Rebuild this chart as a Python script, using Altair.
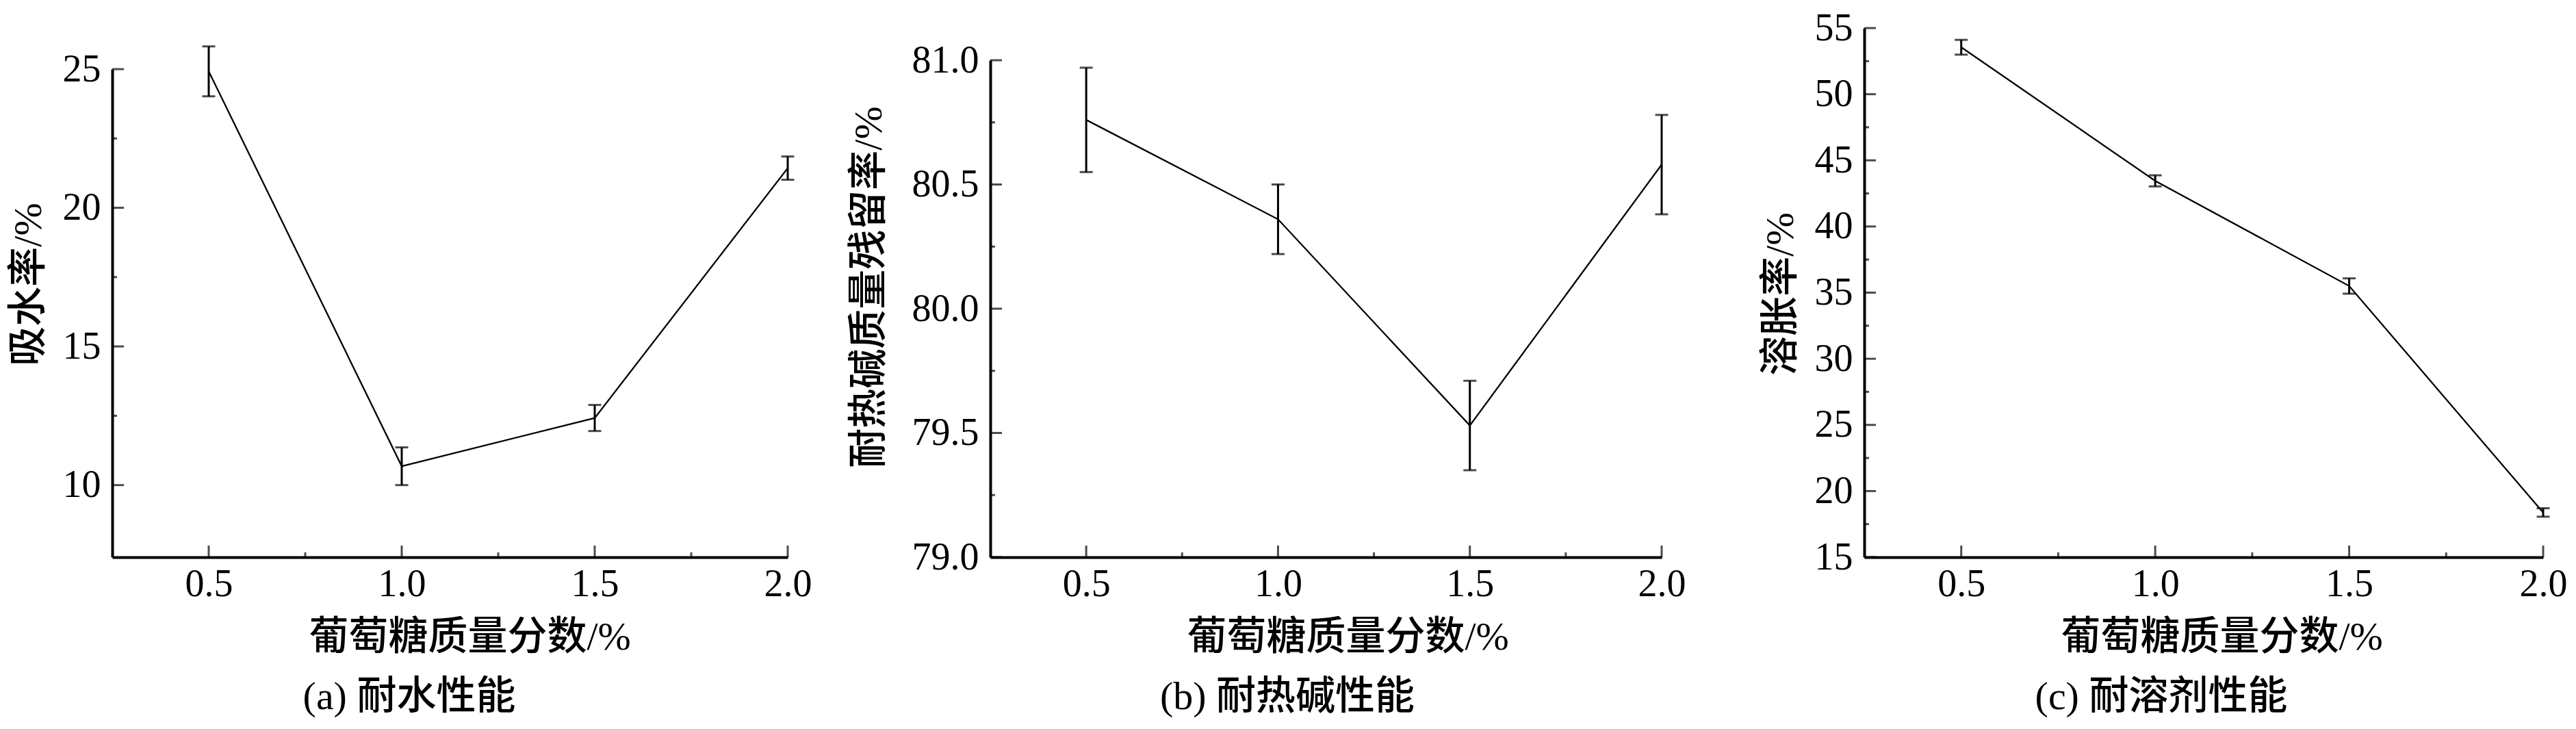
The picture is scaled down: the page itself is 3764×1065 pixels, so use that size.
import altair as alt
import pandas as pd

# ---- data ----
glucose = [0.5, 1.0, 1.5, 2.0]

water_mean = [24.92, 10.68, 12.42, 21.43]
water_err = [0.90, 0.68, 0.47, 0.42]

alkali_mean = [80.76, 80.36, 79.53, 80.58]
alkali_err = [0.21, 0.14, 0.18, 0.20]

swell_mean = [53.55, 43.45, 35.50, 18.38]
swell_err = [0.56, 0.42, 0.58, 0.32]

x_major = [0.5, 1.0, 1.5, 2.0]
x_minor = [0.75, 1.25, 1.75]

a_y_major = [10, 15, 20, 25]
a_y_minor = [12.5, 17.5, 22.5]
b_y_major = [79.0, 79.5, 80.0, 80.5, 81.0]
b_y_minor = [79.25, 79.75, 80.25, 80.75]
c_y_major = [15, 20, 25, 30, 35, 40, 45, 50, 55]
c_y_minor = [17.5, 22.5, 27.5, 32.5, 37.5, 42.5, 47.5, 52.5]

x_title = "葡萄糖质量分数/%"
y_titles = ["吸水率/%", "耐热碱质量残留率/%", "溶胀率/%"]
captions = ["(a) 耐水性能", "(b) 耐热碱性能", "(c) 耐溶剂性能"]

H = 773
FONT_NUM = "Liberation Serif"
FONT_TXT = "Liberation Serif, Noto Sans CJK SC"


def panel(mean, err, ydom, ytop, ymaj, ymin, yfmt, ytitle, ytx, yty, caption, width):
    df = pd.DataFrame({"x": glucose, "y": mean, "e": err})
    df["lo"] = df["y"] - df["e"]
    df["hi"] = df["y"] + df["e"]

    xs = alt.Scale(domain=[0.25, 2.0], nice=False, zero=False)
    ys = alt.Scale(domain=ydom, nice=False, zero=False, range=[H, ytop])
    xax = alt.Axis(values=x_major, format=".1f", title=x_title, titleX=287, titleY=117,
                   titleAlign="left", titleBaseline="middle", ticks=False, tickSize=0,
                   grid=False, labelPadding=12, labelFlush=False, labelOverlap=False)
    yax = alt.Axis(values=ymaj, format=yfmt, title=ytitle, titleX=ytx, titleY=yty,
                   titleAngle=270, titleAlign="center", titleBaseline="middle",
                   ticks=False, tickSize=0, grid=False, labelPadding=17,
                   labelFlush=False, labelOverlap=False)

    def X(f):
        return alt.X(f, type="quantitative", scale=xs, axis=xax)

    def Y(f):
        return alt.Y(f, type="quantitative", scale=ys, axis=yax)

    base = alt.Chart(df)
    line = base.mark_line(color="black", strokeWidth=2.3).encode(x=X("x"), y=Y("y"))
    stem = base.mark_rule(color="black", strokeWidth=3).encode(x=X("x"), y=Y("lo"), y2="hi")
    cap_hi = base.mark_tick(color="black", orient="horizontal", size=19, thickness=3).encode(
        x=X("x"), y=Y("hi"))
    cap_lo = base.mark_tick(color="black", orient="horizontal", size=19, thickness=3).encode(
        x=X("x"), y=Y("lo"))

    xmaj = alt.Chart(pd.DataFrame({"v": x_major})).mark_tick(
        color="black", orient="vertical", size=17, thickness=3).encode(
        x=X("v"), y=alt.value(H - 8.5))
    xmin = alt.Chart(pd.DataFrame({"v": x_minor})).mark_tick(
        color="black", orient="vertical", size=7, thickness=3).encode(
        x=X("v"), y=alt.value(H - 3.5))
    ymj = alt.Chart(pd.DataFrame({"v": ymaj})).mark_tick(
        color="black", orient="horizontal", size=17, thickness=3).encode(
        y=Y("v"), x=alt.value(8.5))
    ymn = alt.Chart(pd.DataFrame({"v": ymin})).mark_tick(
        color="black", orient="horizontal", size=7, thickness=3).encode(
        y=Y("v"), x=alt.value(3.5))

    cap = alt.Chart(pd.DataFrame({"t": [caption]})).mark_text(
        font=FONT_TXT, fontSize=58, fontWeight=500, color="black", align="center",
        baseline="middle").encode(
        text="t:N", x=alt.value(434), y=alt.value(H + 205))

    return alt.layer(line, stem, cap_hi, cap_lo, xmaj, xmin, ymj, ymn, cap).properties(
        width=width, height=H)


pa = panel(water_mean, water_err, [7.4, 25], 60, a_y_major, a_y_minor, "d",
           y_titles[0], -122, 374, captions[0], 987)
pb = panel(alkali_mean, alkali_err, [79.0, 81.0], 47, b_y_major, b_y_minor, ".1f",
           y_titles[1], -177, 378, captions[1], 981)
pc = panel(swell_mean, swell_err, [15, 55], 0, c_y_major, c_y_minor, "d",
           y_titles[2], -122, 388, captions[2], 992)

chart = alt.hconcat(pa, pb, pc, spacing=296, bounds="flush").configure_view(
    stroke=None
).configure_axis(
    labelFont=FONT_NUM, labelFontSize=56, labelColor="black",
    titleFont=FONT_TXT, titleFontSize=58, titleFontWeight=500, titleColor="black",
    domainColor="black", domainWidth=4,
).properties(background="white")

chart.save("out.html", embed_options={"renderer": "svg", "actions": False})
